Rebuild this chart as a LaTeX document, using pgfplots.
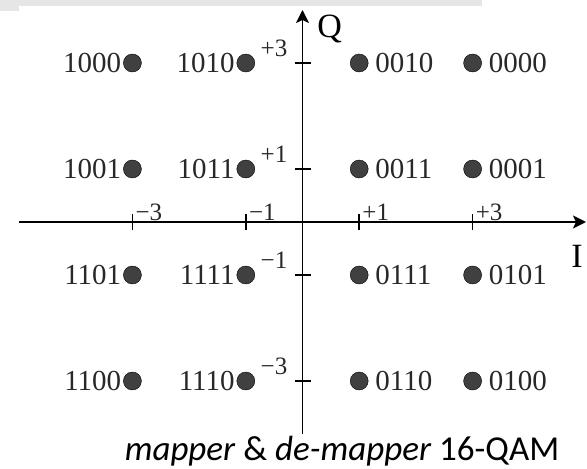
\documentclass[border=0pt]{standalone}
\usepackage{fontspec}
\setmainfont{Liberation Serif}
\newfontfamily\capfont{Carlito}
\usepackage{pgfplots}
\usepackage{pgfplotstable}
\pgfplotsset{compat=1.18}
\usetikzlibrary{arrows.meta}
\definecolor{dotgray}{RGB}{64,64,64}
\definecolor{txtgray}{RGB}{40,40,40}
\definecolor{bargray}{RGB}{230,230,230}

\pgfplotstableread{
x y lab
-3 3 1000
-1 3 1010
-3 1 1001
-1 1 1011
-3 -1 1101
-1 -1 1111
-3 -3 1100
-1 -3 1110
}\lefttab
\pgfplotstableread{
x y lab
1 3 0010
3 3 0000
1 1 0011
3 1 0001
1 -1 0111
3 -1 0101
1 -3 0110
3 -3 0100
}\righttab

\begin{document}
\begin{tikzpicture}[x=1pt,y=1pt]
\path[use as bounding box] (0,0) rectangle (587,469);
\fill[bargray] (0,463) rectangle (482,469);
\fill[bargray] (0,458) rectangle (19,469);
\begin{axis}[
  at={(19pt,35pt)}, anchor=south west,
  scale only axis, width=567pt, height=424pt,
  xmin=-5, xmax=5, ymin=-4, ymax=4,
  axis lines=middle,
  axis line style={line width=1.9pt, black},
  x axis line style={-{Stealth[length=13pt,width=13pt,inset=3pt]}},
  y axis line style={-{Stealth[length=13pt,width=13pt,inset=3pt]}},
  xtick={-3,-1,1,3},
  ytick={-3,-1,1,3},
  xticklabel={\ifdim\tick pt<0pt −\else +\fi\pgfmathparse{int(abs(\tick))}\pgfmathresult},
  yticklabel={\ifdim\tick pt<0pt −\else +\fi\pgfmathparse{int(abs(\tick))}\pgfmathresult},
  tick style={line width=1.6pt, black},
  major tick length=16pt,
  tick align=center,
  tick label style={font=\fontsize{25}{25}\selectfont, text=txtgray, inner sep=0pt},
  xticklabel style={anchor=south west, xshift=3pt, yshift=9pt},
  yticklabel style={anchor=south east, xshift=-7pt, yshift=6pt},
  xlabel={\fontsize{34}{34}\selectfont I}, ylabel={\fontsize{34}{34}\selectfont Q},
  xlabel style={at={(axis description cs:0.984,0.42)}, anchor=center, inner sep=0pt},
  ylabel style={at={(axis description cs:0.548,0.955)}, anchor=center, rotate=0, inner sep=0pt},
  clip=false,
  point meta=explicit symbolic,
  every node near coord/.append style={font=\fontsize{29}{29}\selectfont, text=txtgray, inner sep=0pt},
]
\addplot[only marks, mark=*, mark size=9pt, mark options={fill=dotgray, draw=none},
  nodes near coords, nodes near coords style={anchor=east, xshift=-11pt}]
  table[x=x, y=y, meta=lab] {\lefttab};
\addplot[only marks, mark=*, mark size=9pt, mark options={fill=dotgray, draw=none},
  nodes near coords, nodes near coords style={anchor=west, xshift=16pt}]
  table[x=x, y=y, meta=lab] {\righttab};
\end{axis}
\node[anchor=base, font=\capfont\fontsize{35}{35}\selectfont, text=black] at (342,9) {\textit{mapper} \& \textit{de-mapper} 16-QAM};
\end{tikzpicture}
\end{document}
